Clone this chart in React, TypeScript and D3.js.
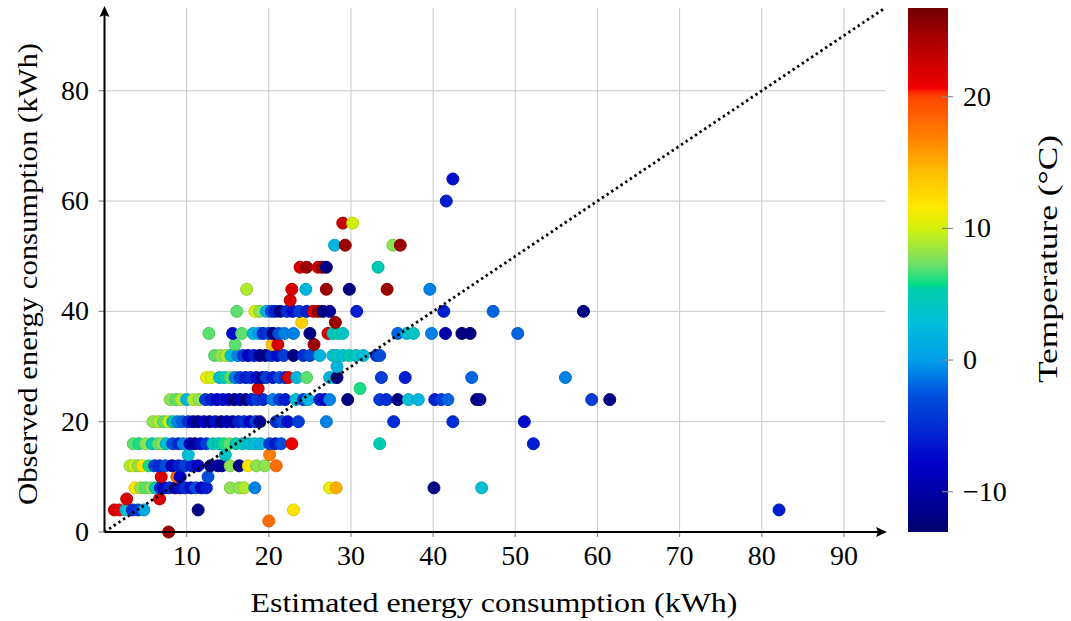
import React from 'react';
import * as d3 from 'd3';

// each row: observed kWh level -> [estimated kWh, temperature °C]
const obs0 = [[7.8, 25]];
const obs2 = [[20.0, 18]];
const obs4 = [[1.2, 22], [1.8, 21], [2.6, 3], [3.4, -5], [4.1, -4], [4.8, 1], [11.4, -12], [23.0, 12], [82.1, -6]];
const obs6 = [[2.7, 22], [6.7, 22]];
const obs8 = [[3.7, 12], [4.4, 8], [5.0, 7], [5.6, 8], [6.2, 5], [6.8, -6], [7.3, -8], [7.9, -5], [8.6, -10], [9.2, -7], [9.8, -5], [10.5, -7], [11.1, -3], [11.8, -8], [12.4, -6], [15.3, 8], [16.4, 8], [17.0, 9], [18.3, -1], [27.4, 11], [28.2, 15], [40.1, -12], [45.9, 3]];
const obs10 = [[6.9, 22], [8.8, 18], [9.2, -8], [12.6, -3]];
const obs12 = [[3.1, 9], [3.6, 10], [4.1, 8], [4.6, 12], [5.4, 6], [6.1, -4], [6.7, -5], [7.4, -3], [8.2, -9], [9.0, -6], [9.8, -4], [10.6, -6], [11.4, -8], [12.9, -12], [13.8, -10], [14.3, -11], [15.3, 8], [16.4, -12], [17.5, 12], [18.5, 8], [19.5, 8], [20.9, 18]];
const obs14 = [[10.2, 3], [14.7, 4], [20.1, 17]];
const obs16 = [[3.5, 7], [4.2, 6], [5.0, 8], [5.8, 5], [6.5, 7], [7.0, 8], [7.5, 3], [8.3, -3], [9.0, -5], [9.6, -1], [10.4, -9], [11.0, -11], [11.7, -7], [12.4, -4], [13.2, 5], [13.9, 4], [14.5, 6], [15.2, 7], [16.0, 5], [16.8, 4], [17.6, 3], [18.3, 3], [19.0, 2], [20.1, -4], [20.8, -6], [21.5, -3], [22.8, 21], [33.5, 5], [52.2, -6]];
const obs20 = [[5.9, 8], [6.6, 9], [7.2, 7], [7.8, 10], [8.3, 5], [8.9, -1], [9.5, -2], [10.2, -5], [10.8, -9], [11.4, -12], [12.1, -8], [12.8, -11], [13.5, -7], [14.2, -12], [14.9, -9], [15.6, -10], [16.3, -6], [17.0, -5], [17.7, -8], [18.4, -4], [18.9, -11], [20.9, -5], [21.6, -3], [22.3, -7], [23.6, -4], [27.0, -1], [35.2, -5], [42.4, -5], [51.1, -7]];
const obs24 = [[8.0, 8], [8.7, 7], [9.3, 9], [10.0, 2], [10.8, 9], [11.5, 8], [12.3, -4], [13.0, -6], [13.7, -8], [14.4, -7], [15.1, -8], [15.8, -12], [16.5, -9], [17.2, -12], [17.9, -6], [18.6, -4], [19.3, -5], [20.5, -1], [21.3, -4], [22.0, -6], [23.3, 3], [24.2, -4], [24.8, 2], [26.2, -6], [26.8, -8], [27.4, -1], [29.6, -12], [33.5, -4], [34.3, -5], [35.7, -12], [37.0, 3], [38.2, 2], [40.2, -6], [41.0, -4], [41.8, -2], [45.3, -12], [45.7, -11], [59.3, -4], [61.5, -12]];
const obs26 = [[18.7, 22], [31.1, 6]];
const obs28 = [[12.4, 11], [13.0, 10], [14.0, 3], [14.6, 5], [15.3, 7], [15.9, -1], [16.5, -4], [17.2, -6], [17.8, -5], [18.5, -7], [19.2, -11], [19.7, -4], [20.5, -6], [21.3, -3], [22.0, -5], [22.4, 22], [23.4, 2], [24.6, 7], [27.4, 2], [28.0, 3], [28.3, -12], [33.7, -4], [36.6, -6], [44.7, -2], [56.1, -1]];
const obs30 = [[28.3, 2]];
const obs32 = [[13.4, 7], [14.1, 8], [14.8, 9], [15.4, 3], [16.2, -1], [16.9, -4], [17.5, -8], [18.2, -6], [18.9, -11], [19.6, -12], [20.3, -5], [21.0, -7], [21.8, -4], [23.0, -12], [24.2, -5], [25.0, -3], [26.2, 2], [27.8, 3], [28.3, 4], [29.0, 3], [29.8, 5], [30.6, 4], [31.5, 3], [33.1, -5], [33.5, -3]];
const obs34 = [[15.9, 7], [20.4, 14], [21.1, 22], [25.5, 25]];
const obs36 = [[12.7, 7], [15.6, -7], [16.7, 7], [18.1, 2], [18.8, 0], [19.3, -5], [20.0, -4], [20.5, -12], [21.2, -3], [21.9, -1], [23.0, -1], [25.0, -12], [27.2, 22], [27.8, 4], [28.4, 5], [29.0, 4], [35.7, -2], [36.8, 3], [37.6, 4], [39.8, -1], [41.5, -10], [43.5, -12], [44.5, -12], [50.3, -2]];
const obs38 = [[24.0, 13], [28.1, 25]];
const obs40 = [[16.1, 7], [18.3, 10], [18.9, 8], [19.7, 2], [20.3, -4], [20.8, -6], [21.4, -12], [22.2, -5], [22.9, -7], [23.7, -4], [24.6, -6], [25.4, 22], [26.0, 25], [26.6, -12], [27.4, -11], [30.7, -6], [41.3, -6], [47.3, -2], [58.3, -12]];
const obs42 = [[22.6, 22]];
const obs44 = [[17.3, 9], [22.8, 22], [24.5, 2], [27.0, 25], [29.8, -12], [34.4, 25], [39.6, -1]];
const obs48 = [[23.8, 22], [24.6, 25], [26.0, 22], [26.5, 25], [27.0, -12], [33.3, 5]];
const obs52 = [[28.0, 2], [29.3, 25], [35.1, 8], [36.0, 25]];
const obs56 = [[29.0, 23], [30.2, 10]];
const obs60 = [[41.6, -6]];
const obs64 = [[42.4, -7]];

const rows: [number, number[][]][] = [
  [0, obs0], [2, obs2], [4, obs4], [6, obs6], [8, obs8], [10, obs10], [12, obs12], [14, obs14],
  [16, obs16], [20, obs20], [24, obs24], [26, obs26], [28, obs28], [30, obs30], [32, obs32],
  [34, obs34], [36, obs36], [38, obs38], [40, obs40], [42, obs42], [44, obs44], [48, obs48],
  [52, obs52], [56, obs56], [60, obs60], [64, obs64],
];

const xTicks = [10, 20, 30, 40, 50, 60, 70, 80, 90];
const yTicks = [0, 20, 40, 60, 80];
const cTicks = [-10, 0, 10, 20];
const tempRange = [-13.06, 26.74];

// colormap (fraction from bottom)
const cmapStops = [0, 0.095, 0.13, 0.26, 0.33, 0.4, 0.466, 0.47, 0.515, 0.58, 0.62, 0.686, 0.752, 0.83, 0.84, 0.847, 0.916, 1];
const cmapColors = ['#00006e', '#0000b4', '#0000c8', '#0050dc', '#00a0eb', '#00bed7', '#00cdaa', '#00dc8c', '#78e164', '#d2f00a', '#ffeb00', '#ffbe00', '#ff8200', '#ff4600', '#ff2800', '#f00000', '#be0000', '#730000'];

const font = '"Liberation Serif", "Times New Roman", serif';

export default function App() {
  const W = 1071, H = 621;
  const left = 104.5, right = 885, top = 8, bottom = 532;

  const x = d3.scaleLinear().domain([0, 95]).range([left, right]);
  const y = d3.scaleLinear().domain([0, 95]).range([bottom, top]);
  const frac = d3.scaleLinear().domain(tempRange).range([0, 1]);
  const cmap = d3.scaleLinear<string>().domain(cmapStops).range(cmapColors).interpolate(d3.interpolateRgb).clamp(true);
  const color = (t: number) => cmap(frac(t));

  const cbX0 = 908, cbX1 = 948;
  const cy = d3.scaleLinear().domain(tempRange).range([bottom, top]);

  const points = rows.flatMap(([o, pts]) => pts.map(([e, t]) => ({ e, o, t })));

  const gradStops = cmapStops.map((s, i) => ({ offset: s, c: cmapColors[i] }));

  return (
    <svg width={W} height={H} style={{ position: 'absolute', left: 0, top: 0, background: '#fff' }}>
      <defs>
        <linearGradient id="cbar" x1="0" y1="1" x2="0" y2="0">
          {gradStops.map((s, i) => (
            <stop key={i} offset={s.offset} stopColor={s.c} />
          ))}
        </linearGradient>
      </defs>

      {/* grid */}
      <g stroke="#c8c8c8" strokeWidth={1}>
        {xTicks.map((v) => (
          <line key={'gx' + v} x1={x(v)} x2={x(v)} y1={top} y2={bottom} />
        ))}
        {yTicks.filter((v) => v > 0).map((v) => (
          <line key={'gy' + v} x1={left} x2={right} y1={y(v)} y2={y(v)} />
        ))}
      </g>

      {/* points */}
      <g>
        {points.map((p, i) => {
          const c = color(p.t);
          return (
            <circle key={i} cx={x(p.e)} cy={y(p.o)} r={6} fill={c}
              stroke={d3.color(c)!.darker(0.35).toString()} strokeWidth={1} />
          );
        })}
      </g>

      {/* identity line */}
      <line x1={x(0)} y1={y(0)} x2={x(95)} y2={y(95)} stroke="#000" strokeWidth={2.8}
        strokeDasharray="2.4 3.2" />

      {/* ticks */}
      <g stroke="#888" strokeWidth={1.2}>
        {xTicks.map((v) => (
          <line key={'tx' + v} x1={x(v)} x2={x(v)} y1={bottom} y2={bottom + 5} />
        ))}
        {yTicks.map((v) => (
          <line key={'ty' + v} x1={left - 6} x2={left} y1={y(v)} y2={y(v)} />
        ))}
      </g>

      {/* axes with arrows */}
      <line x1={left} y1={bottom} x2={right - 6} y2={bottom} stroke="#000" strokeWidth={2} />
      <line x1={left} y1={bottom} x2={left} y2={top + 6} stroke="#000" strokeWidth={2} />
      <path d={`M${right + 2},${bottom} L${right - 9},${bottom - 5} L${right - 7},${bottom} L${right - 9},${bottom + 5} Z`} fill="#000" />
      <path d={`M${left},${top - 2} L${left - 5},${top + 9} L${left},${top + 7} L${left + 5},${top + 9} Z`} fill="#000" />

      {/* tick labels */}
      <g fontFamily={font} fontSize={28} fill="#000">
        {xTicks.map((v) => (
          <text key={'lx' + v} x={x(v)} y={565} textAnchor="middle">{v}</text>
        ))}
        {yTicks.map((v) => (
          <text key={'ly' + v} x={89} y={y(v) + 9} textAnchor="end">{v}</text>
        ))}
      </g>

      {/* axis labels */}
      <text x={494} y={612} textAnchor="middle" fontFamily={font} fontSize={28}
        textLength={487} lengthAdjust="spacingAndGlyphs">
        Estimated energy consumption (kWh)
      </text>
      <text transform={`translate(37,274) rotate(-90)`} textAnchor="middle" fontFamily={font} fontSize={28}
        textLength={462} lengthAdjust="spacingAndGlyphs">
        Observed energy consumption (kWh)
      </text>

      {/* colour bar */}
      <rect x={cbX0} y={top} width={cbX1 - cbX0} height={bottom - top} fill="url(#cbar)" />
      <g stroke="#888" strokeWidth={1.2}>
        {cTicks.map((v) => (
          <line key={'ct' + v} x1={cbX1 - 6} x2={cbX1 + 5} y1={cy(v)} y2={cy(v)} />
        ))}
      </g>
      <g fontFamily={font} fontSize={28} fill="#000">
        {cTicks.map((v) => (
          <text key={'cl' + v} x={963} y={cy(v) + 9} textAnchor="start">
            {v < 0 ? '\u2212' + Math.abs(v) : v}
          </text>
        ))}
      </g>
      <text transform={`translate(1057,259) rotate(-90)`} textAnchor="middle" fontFamily={font} fontSize={28}
        textLength={248} lengthAdjust="spacingAndGlyphs">
        Temperature (°C)
      </text>
    </svg>
  );
}
